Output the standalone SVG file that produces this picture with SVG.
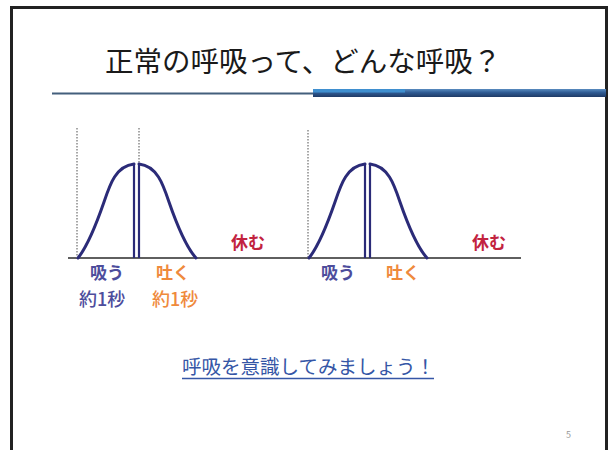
<svg xmlns="http://www.w3.org/2000/svg" width="612" height="450" viewBox="0 0 612 450">
  <style>
    .jp { font-family: "Noto Sans CJK JP", "Noto Sans", sans-serif; }
    .curve { fill: none; stroke: #2b2b78; stroke-width: 3; stroke-linecap: round; }
    .peak { stroke: #2b2b78; stroke-width: 2.2; }
    .dot { stroke: #8a8a8a; stroke-width: 1.5; stroke-dasharray: 1.5 1.5; }
    .lbl { font-size: 17px; font-weight: bold; }
    .inhale { fill: #4d4d9c; }
    .exhale { fill: #ef8a3c; }
    .rest { fill: #c2233f; }
    .sec { font-size: 18px; font-weight: 500; }
  </style>
  <defs>
    <linearGradient id="bar" x1="0" y1="0" x2="0" y2="1">
      <stop offset="0" stop-color="#5a8cc0"/>
      <stop offset="0.45" stop-color="#2e5a92"/>
      <stop offset="1" stop-color="#1f3a66"/>
    </linearGradient>
  </defs>
  <rect width="612" height="450" fill="#ffffff"/>
  <!-- frame -->
  <path d="M11.5,450 V7.5 H606.5 V450" fill="none" stroke="#222222" stroke-width="3"/>
  <!-- title -->
  <g id="title">
    <text class="jp" x="105" y="72" font-size="28.5" fill="#1a1a1a">正常の呼吸って、どんな呼吸？</text>
    <line x1="52" y1="93.5" x2="313" y2="93.5" stroke="#435f7c" stroke-width="2"/>
    <rect x="313" y="89" width="293" height="8" fill="url(#bar)"/>
    <rect x="313" y="89" width="92" height="3.5" fill="#3f8fcf"/>
  </g>
  <!-- axis and connectors -->
  <g id="connectors">
    <line x1="68" y1="258" x2="521" y2="258" stroke="#2a2a2a" stroke-width="1.3"/>
    <line class="dot" x1="77" y1="128" x2="77" y2="258"/>
    <line class="dot" x1="139" y1="128" x2="139" y2="164"/>
    <line class="dot" x1="308" y1="130" x2="308" y2="258"/>
  </g>
  <g id="wave1">
    <path class="curve" d="M78,258 C86,248 95,228 104,202 C110,184 116,166 134,164"/>
    <path class="curve" d="M139,164 C157,166 163,184 169,202 C178,228 187,248 196,258"/>
    <line class="peak" x1="134" y1="164" x2="134" y2="258"/>
    <line class="peak" x1="139" y1="164" x2="139" y2="258"/>
  </g>
  <g id="wave2">
    <path class="curve" d="M309,258 C317,248 326,228 335,202 C341,184 347,166 365,164"/>
    <path class="curve" d="M370,164 C388,166 394,184 400,202 C409,228 418,248 427,258"/>
    <line class="peak" x1="365" y1="164" x2="365" y2="258"/>
    <line class="peak" x1="370" y1="164" x2="370" y2="258"/>
  </g>
  <g id="labels1">
    <text class="jp lbl inhale" x="90" y="279">吸う</text>
    <text class="jp lbl exhale" x="156" y="279">吐く</text>
    <text class="jp lbl rest" x="231" y="249">休む</text>
    <text class="jp sec inhale" x="79" y="306">約1秒</text>
    <text class="jp sec exhale" x="152" y="306">約1秒</text>
  </g>
  <g id="labels2">
    <text class="jp lbl inhale" x="321" y="279">吸う</text>
    <text class="jp lbl exhale" x="386" y="279">吐く</text>
    <text class="jp lbl rest" x="472" y="249">休む</text>
  </g>
  <g id="note">
    <text class="jp" x="182" y="374" font-size="19.5" fill="#3556a6">呼吸を意識してみましょう！</text>
    <line x1="182" y1="378.5" x2="434" y2="378.5" stroke="#3556a6" stroke-width="1.5"/>
  </g>
  <text class="jp" x="566" y="438" font-size="9" fill="#999999">5</text>
</svg>
